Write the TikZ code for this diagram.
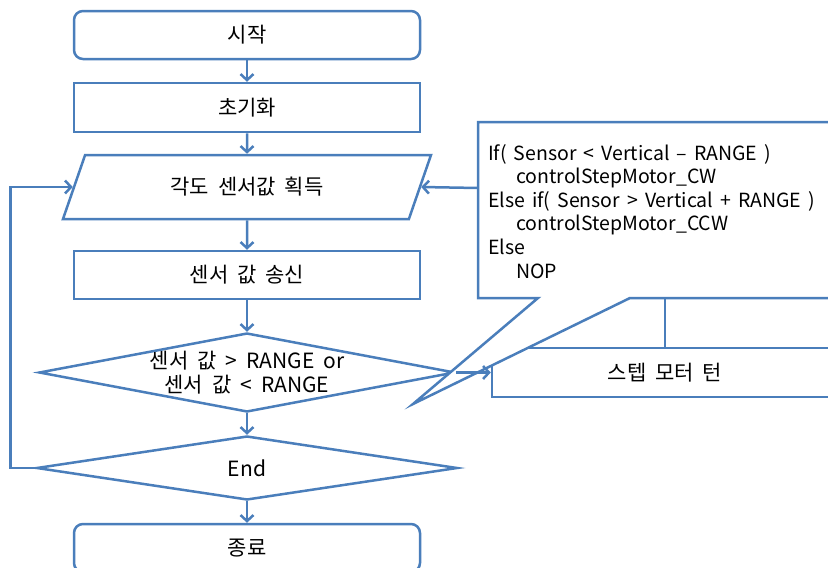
\documentclass[tikz,border=0pt]{standalone}
\usepackage{fontspec}
\setmainfont{Noto Sans CJK KR}
\usepackage{xcolor}
\usetikzlibrary{positioning, arrows.meta, shapes.geometric}
\definecolor{flowblue}{RGB}{74,126,187}
\newcommand{\flowfont}{\fontsize{21}{24}\selectfont\spaceskip=9pt plus 1pt minus 1pt\relax}
\newcommand{\notefont}{\fontsize{19.5}{23.6}\selectfont\spaceskip=7pt plus 1pt minus 1pt\relax}

\tikzset{
  line/.style={draw=flowblue, line width=2.5pt},
  flow/.style={line, -{Straight Barb[length=6pt,width=13pt]}},
  box/.style={line, fill=white, minimum width=346pt, minimum height=48pt, inner sep=0pt},
  term/.style={box, rounded corners=9pt},
  io/.style={line, fill=white, trapezium, trapezium left angle=41, trapezium right angle=139,
    trapezium stretches body=true, minimum width=368pt, minimum height=64pt, inner sep=0pt},
  decision/.style={line, fill=white, diamond, aspect=5.27, inner sep=-4pt},
}

\begin{document}
\begin{tikzpicture}[x=1pt, y=-1pt, font=\flowfont]
    \useasboundingbox (0,0) rectangle (828,568);
    \clip (0,0) rectangle (828,568);

    % main column
    \node[term] (start) at (247,35) {시작};
    \node[box, minimum height=49pt] (init) at (247,107.5) {초기화};
    \node[io] (read) at (247,187) {각도 센서값 획득};
    \node[box] (send) at (247,275) {센서 값 송신};
    \node[decision, minimum width=416pt, minimum height=79pt, align=center] (cond) at (247,372.5)
      {센서 값 > RANGE or\\센서 값 < RANGE};
    \node[decision, minimum width=421pt, minimum height=64pt] (endq) at (247,468) {End};
    \node[term] (stop) at (247,548) {종료};

    % motor step
    \node[box, minimum height=49pt] (turn) at (665,372.5) {스텝 모터 턴};

    % note with pointer
    \draw[line, fill=white] (478,122) -- (860,122) -- (860,298) -- (630,298)
      -- (413,404) -- (538,298) -- (478,298) -- cycle;
    \node[anchor=north west, align=left, inner sep=0pt, font=\notefont] (note) at (488,144)
      {If( Sensor < Vertical -- RANGE )\\
       \hspace{28pt}controlStepMotor\_CW\\
       Else if( Sensor > Vertical + RANGE )\\
       \hspace{28pt}controlStepMotor\_CCW\\
       Else\\
       \hspace{28pt}NOP};
    \coordinate (noteL) at (478,188);
    \coordinate (noteB) at (665,298);

    \draw[flow] (start) -- (init);
    \draw[flow] (init) -- (read);
    \draw[flow] (read) -- (send);
    \draw[flow] (send) -- (cond);
    \draw[flow] (cond) -- (endq);
    \draw[flow] (endq) -- (stop);
    \draw[flow] (cond.east) -- (turn.west);
    \draw[flow] (noteL) -- (read.right side);
    \draw[line] (noteB) -- (turn.north);

    % loop back
    \draw[flow] (endq.west) -- ++(-25,0) |- (read.left side);
\end{tikzpicture}
\end{document}
